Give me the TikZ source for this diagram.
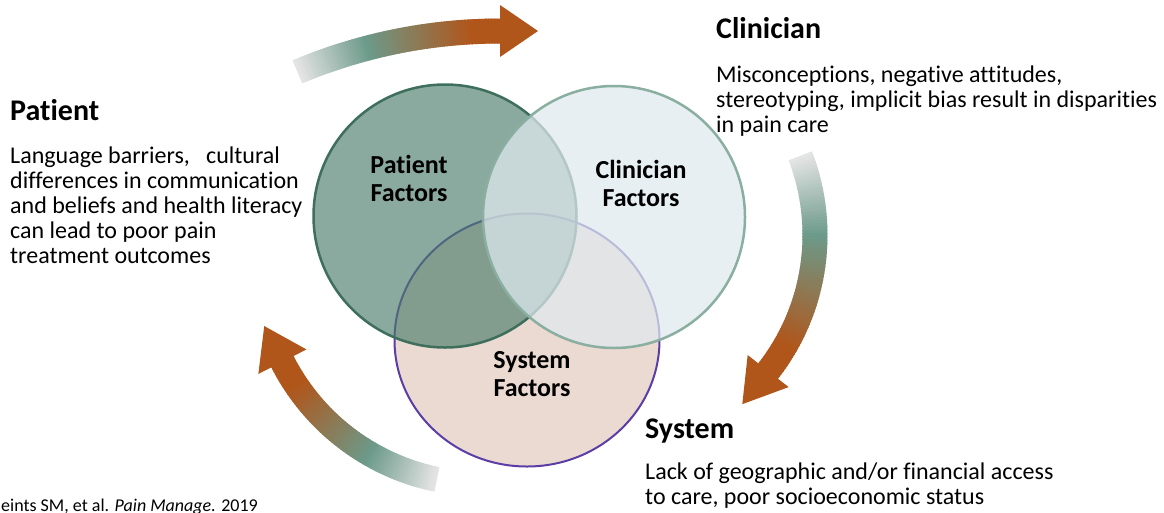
\documentclass[tikz,border=0pt]{standalone}
\usepackage{fontspec}
\setmainfont{Carlito}[Ligatures={NoCommon}]
\usetikzlibrary{shapes.geometric}
\definecolor{arrowgray}{HTML}{E4E4E4}
\definecolor{arrowteal}{HTML}{6C9A8A}
\definecolor{arroworange}{HTML}{B0561B}
\definecolor{patfill}{HTML}{4B7C6B}
\definecolor{patborder}{HTML}{3E6E5C}
\definecolor{clinfill}{HTML}{DFE9EE}
\definecolor{clinborder}{HTML}{8AAFA1}
\definecolor{sysfill}{HTML}{EBDAD1}
\definecolor{sysborder}{HTML}{5A3EA6}
% #1 cx, #2 cy, #3 R, #4 start angle, #5 end angle, #6 head half width, #7 head length
\newcommand{\gradarrow}[7]{%
  \foreach \i in {0,...,71}{%
    \pgfmathsetmacro{\ta}{(#4)+((#5)-(#4))*\i/72}%
    \pgfmathsetmacro{\tb}{(#4)+((#5)-(#4))*(\i+1.4)/72}%
    \pgfmathtruncatemacro{\pa}{min(100,(\i/72)/0.35*100)}%
    \pgfmathtruncatemacro{\pb}{max(0,min(100,((\i/72)-0.35)/0.5*100))}%
    \ifnum\pb>0 \colorlet{segc}{arroworange!\pb!arrowteal}\else\colorlet{segc}{arrowteal!\pa!arrowgray}\fi
    \fill[segc] ({#1+(#3-12.5)*cos(\ta)},{#2+(#3-12.5)*sin(\ta)})
      -- ({#1+(#3+12.5)*cos(\ta)},{#2+(#3+12.5)*sin(\ta)})
      -- ({#1+(#3+12.5)*cos(\tb)},{#2+(#3+12.5)*sin(\tb)})
      -- ({#1+(#3-12.5)*cos(\tb)},{#2+(#3-12.5)*sin(\tb)}) -- cycle;
  }%
  \pgfmathsetmacro{\bx}{#1+#3*cos(#5)}%
  \pgfmathsetmacro{\by}{#2+#3*sin(#5)}%
  \fill[arroworange] ({\bx+#6*cos(#5)},{\by+#6*sin(#5)})
    -- ({\bx-#7*sin(#5)},{\by+#7*cos(#5)})
    -- ({\bx-#6*cos(#5)},{\by-#6*sin(#5)}) -- cycle;
}
\tikzset{
  headtxt/.style={font=\fontsize{30}{32}\selectfont\bfseries, anchor=base west, inner sep=0pt},
  bodytxt/.style={font=\fontsize{24}{25}\selectfont, align=left, anchor=north west, inner sep=0pt},
  clabel/.style={font=\fontsize{26}{28}\selectfont\bfseries, align=center, anchor=north, inner sep=0pt},
  cite/.style={font=\fontsize{18}{19}\selectfont, anchor=base east, inner sep=0pt},
}
\begin{document}
\begin{tikzpicture}[x=1pt,y=-1pt]
\useasboundingbox (0,0) rectangle (1164,512);
% cycle arrows
\gradarrow{500}{554}{523}{-112.8}{-90}{26}{38}
\gradarrow{594}{235}{221}{-21}{38}{26}{42}
\gradarrow{482}{260}{224}{101.6}{153}{27}{40}
% Venn circles
\node[ellipse, minimum width=265, minimum height=253, fill=sysfill, draw=sysborder, line width=2pt] (sys) at (527,340) {};
\node[circle, minimum size=263, fill=patfill, fill opacity=0.65, draw=patborder, line width=2.5pt] (pat) at (445,216) {};
\node[circle, minimum size=262, fill=clinfill, fill opacity=0.73, draw=clinborder, line width=2.5pt] (clin) at (614,217) {};
% circle labels
\node[clabel] (patlab) at (409,152) {\rule{0pt}{21pt}Patient\\Factors};
\node[clabel] (clinlab) at (641,157) {\rule{0pt}{21pt}Clinician\\Factors};
\node[clabel] (syslab) at (532,347) {\rule{0pt}{21pt}System\\Factors};
% side texts
\node[headtxt] (pathead) at (10,120) {Patient};
\node[bodytxt] (patbody) at (10,143) {\rule{0pt}{20pt}Language barriers,\ \ \ cultural\\differences in communication\\and beliefs and health literacy\\can lead to poor pain\\treatment outcomes};
\node[headtxt] (clinhead) at (716,38) {Clinician};
\node[bodytxt] (clinbody) at (716,62) {\rule{0pt}{20pt}Misconceptions, negative attitudes,\\stereotyping, implicit bias result in disparities\\in pain care};
\node[headtxt] (syshead) at (645,438) {System};
\node[bodytxt] (sysbody) at (645,459) {\rule{0pt}{20pt}Lack of geographic and/or financial access\\to care, poor socioeconomic status};
\node[cite] (citation) at (258,511) {Meints SM, et al. \textit{Pain Manage.} 2019};
\end{tikzpicture}
\end{document}
